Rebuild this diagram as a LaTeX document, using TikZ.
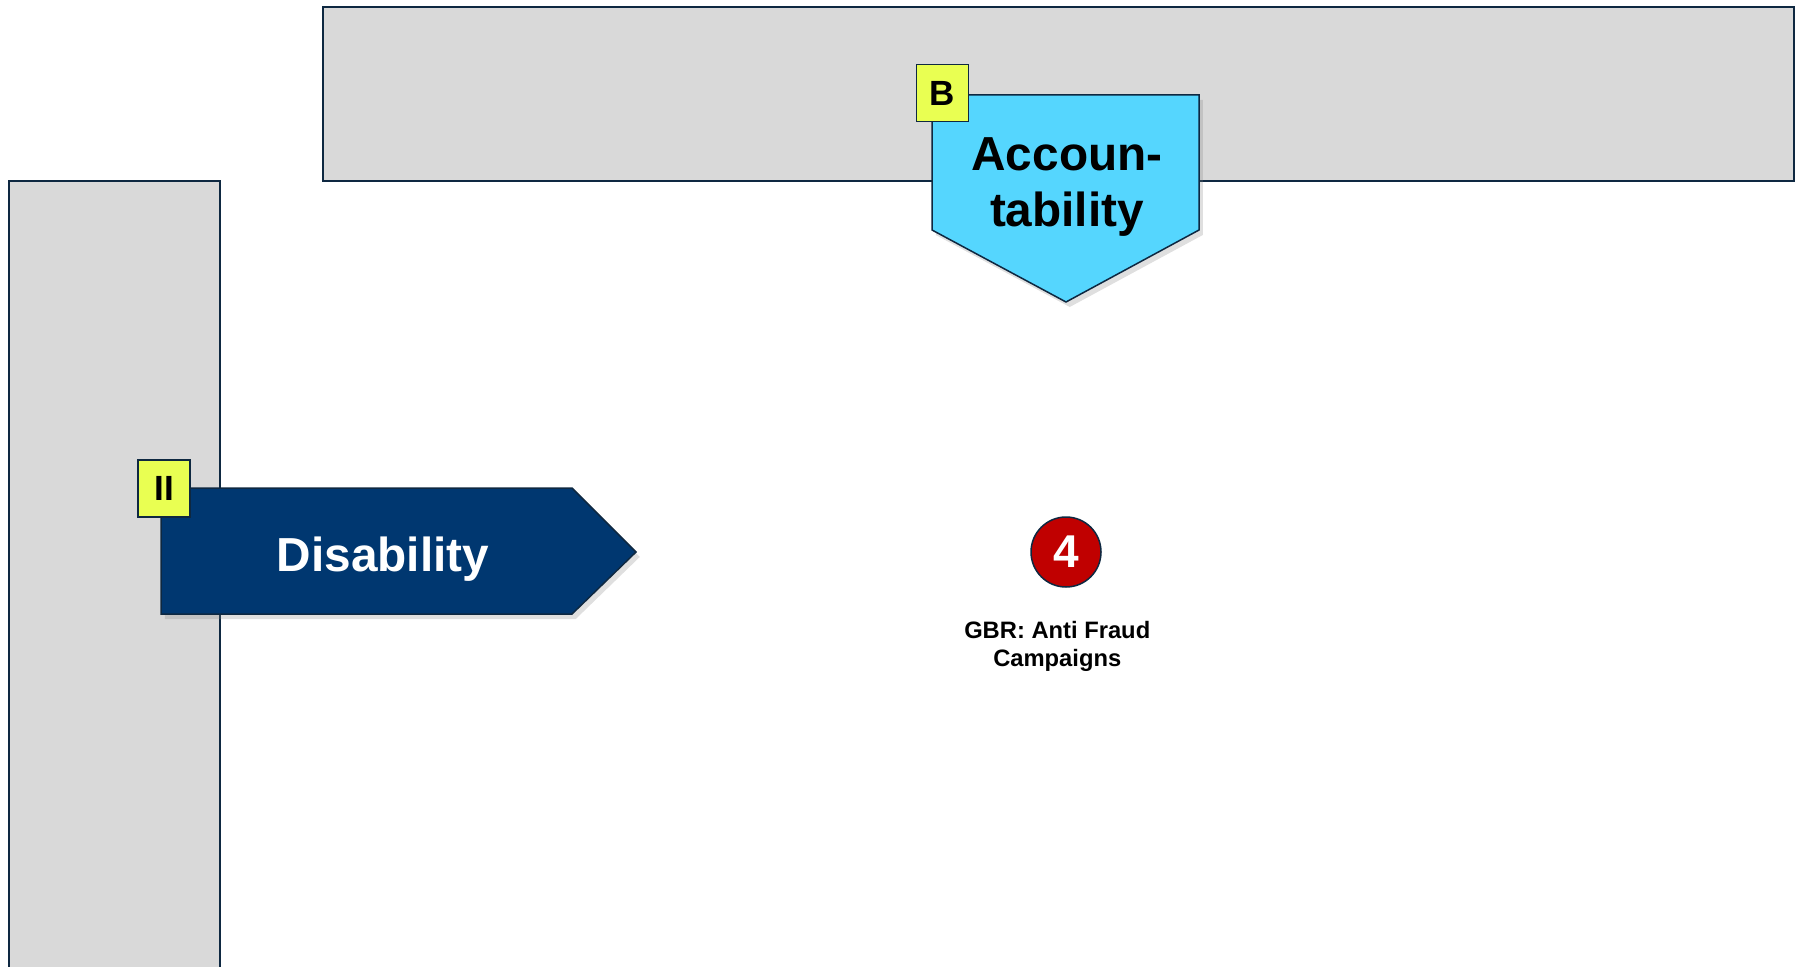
\documentclass[tikz,border=0pt]{standalone}
\usepackage{fontspec}
\setmainfont{Liberation Sans}
\usepackage{tikz}
\usetikzlibrary{positioning, shadows}
\definecolor{barGrey}{HTML}{D9D9D9}
\definecolor{lineNavy}{HTML}{0E2841}
\definecolor{deepBlue}{HTML}{003770}
\definecolor{skyBlue}{HTML}{55D6FE}
\definecolor{tagYellow}{HTML}{E9FF52}
\definecolor{dotRed}{HTML}{C00000}
\newcommand{\bigtxt}{\fontsize{19.1}{22.4}\selectfont\bfseries}

\begin{document}
\begin{tikzpicture}[x=0.4pt, y=-0.4pt,
    bar/.style={draw=lineNavy, fill=barGrey, line width=1pt},
    arrowbox/.style={draw=lineNavy, line width=0.6pt, drop shadow={shadow xshift=1.5pt, shadow yshift=-2pt, opacity=0.25}},
    tag/.style={draw=lineNavy, fill=tagYellow, line width=0.6pt, minimum width=52*0.4pt, minimum height=57*0.4pt, inner sep=0pt, font=\fontsize{14}{14}\selectfont\bfseries},
    num/.style={shape=circle, draw=lineNavy, fill=dotRed, line width=0.6pt, minimum size=28pt, inner sep=0pt, text=white, font=\fontsize{18.4}{18.4}\selectfont\bfseries},
    caption/.style={align=center, font=\fontsize{9.5}{11}\selectfont\bfseries}]
    \useasboundingbox (0,0) rectangle (1803,966);
    % grey bands
    \draw[bar] (323,7) rectangle (1794,181);
    \draw[bar] (9,181) rectangle (220,980);
    % arrow shapes
    \draw[arrowbox, fill=skyBlue] (932,95) -- (1199,95) -- (1199,230) -- (1066,302) -- (932,230) -- cycle;
    \draw[arrowbox, fill=deepBlue] (161,488) -- (572,488) -- (636,552) -- (572,614) -- (161,614) -- cycle;
    \node[align=center, font=\bigtxt] (acc) at (1067,187) {Accoun-\\tability};
    \node[text=white, font=\bigtxt] (dis) at (383,559) {Disability};
    \node[tag] (tagB) at (942.5,93) {B};
    \node[tag] (tagII) at (164,488.5) {II};
    % case marker
    \node[num] (four) at (1066,552) {4};
    \node[caption, below=10pt of four, xshift=-3.5pt] (gbr) {GBR: Anti Fraud\\Campaigns};
\end{tikzpicture}
\end{document}
